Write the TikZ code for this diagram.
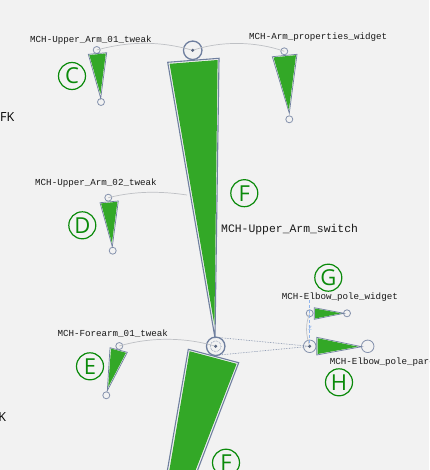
\documentclass[tikz,border=0pt]{standalone}
\usepackage{fontspec}
\setmainfont{Open Sans}
\setmonofont{Liberation Mono}
\usetikzlibrary{positioning}
\definecolor{bgcol}{HTML}{F2F2F2}
\definecolor{bonegreen}{HTML}{33A827}
\definecolor{boneline}{HTML}{6F7F9F}
\definecolor{markgreen}{HTML}{0A8A0A}
\definecolor{linkgray}{HTML}{BEC0C4}
\definecolor{axisblue}{HTML}{8FB4EC}
\begin{document}
\begin{tikzpicture}[
    x=1pt, y=-1pt,
    outl/.style={draw=boneline, fill=bgcol, line width=1.1pt, line join=miter},
    inl/.style={fill=bonegreen},
    ctl/.style={circle, draw=boneline!85, line width=0.8pt, inner sep=0pt, minimum size=7pt},
    jnt/.style={circle, draw=boneline, line width=1.3pt, inner sep=0pt, minimum size=18.5pt},
    pin/.style={circle, fill=boneline!80!black, inner sep=0pt, minimum size=3.4pt},
    lnk/.style={linkgray, line width=0.7pt},
    dlnk/.style={boneline, line width=0.6pt, densely dotted},
    lbl/.style={font=\ttfamily\fontsize{9.2}{10}\selectfont, text=black!90, inner sep=0pt},
    ltr/.style={circle, draw=markgreen, line width=1.2pt, text=markgreen, minimum size=27pt, inner sep=0pt,
      font=\fontsize{22}{23}\selectfont\mdseries},
    sidetxt/.style={font=\fontsize{12.5}{13}\selectfont, inner sep=0pt}
  ]
    \clip (0,0) rectangle (429,470);
    \useasboundingbox (0,0) rectangle (429,470);
    \fill[bgcol] (0,0) rectangle (429,470);

    % --- links ---
    \node[jnt] (upjnt) at (192.7,50.3) {};
    \node[jnt] (elbjnt) at (215.7,346.3) {};
    \node[ctl] (c1) at (96.7,50) {};
    \node[ctl] (c2) at (101,102) {};
    \node[ctl] (w1) at (284.3,51.3) {};
    \node[ctl] (w2) at (289.3,119.3) {};
    \node[ctl] (d1) at (108.3,197.7) {};
    \node[ctl] (d2) at (112.7,250.7) {};
    \node[ctl] (e1) at (119.3,346) {};
    \node[ctl] (e2) at (106.3,395.3) {};
    \node[ctl] (g1) at (309.7,313.3) {};
    \node[ctl] (g2) at (347,313.3) {};
    \node[ctl, minimum size=12.5pt] (h1) at (309.7,346.3) {};
    \node[ctl, minimum size=12.5pt] (h2) at (367.7,346.3) {};
    \coordinate (dend) at (187,195);
    \coordinate (ztop) at (309.7,300);

    \draw[lnk] (c1.center) .. controls (130,41) and (160,41) .. (upjnt.center);
    \draw[lnk] (upjnt.center) .. controls (220,41) and (255,41) .. (w1.center);
    \draw[lnk] (d1.center) .. controls (135,191) and (160,191) .. (dend);
    \draw[lnk] (e1.center) .. controls (150,337) and (185,337) .. (elbjnt.center);
    \draw[lnk] (g1.center) .. controls (305,325) and (306,335) .. (h1.center);
    \draw[dlnk] (elbjnt.60) -- (h1.center);
    \draw[dlnk] (elbjnt.-60) -- (h1.center);
    \draw[axisblue, densely dashed, line width=0.7pt] (ztop) -- (h1.center);
    \node[font=\sffamily\fontsize{6}{6}\selectfont, text=axisblue, inner sep=0pt] (zlbl) at (310,328) {Z};

    % --- bones ---
    \draw[outl] (167.7,62.3) -- (219,58.3) -- (215,338) -- cycle;
    \fill[inl] (169.6,63.8) -- (217.6,60) -- (214.4,325) -- cycle;
    \draw[outl] (188.3,349.3) -- (238.7,362.7) -- (190,490) -- (164,490) -- cycle;
    \fill[inl] (189.6,351.2) -- (236.6,363.8) -- (188,490) -- (166,490) -- cycle;
    \draw[outl, line width=0.7pt] (88.3,54.3) -- (106.7,52.7) -- (100.7,98.3) -- cycle;
    \fill[inl] (89.3,55) -- (105.8,53.5) -- (100.4,94) -- cycle;
    \draw[outl, line width=0.7pt] (272.3,56.7) -- (297,54.3) -- (289.3,113.3) -- cycle;
    \fill[inl] (273.5,57.4) -- (296,55.2) -- (288.9,110) -- cycle;
    \draw[outl, line width=0.7pt] (100,202.7) -- (118.3,201) -- (112.3,246.7) -- cycle;
    \fill[inl] (101,203.4) -- (117.4,201.8) -- (111.9,243) -- cycle;
    \draw[outl, line width=0.7pt] (110,347.7) -- (127.3,352.3) -- (107.3,390.7) -- cycle;
    \fill[inl] (111,348.6) -- (126,352.8) -- (108.2,387) -- cycle;
    \draw[outl, line width=0.7pt] (314.3,307.7) -- (314.3,319.3) -- (344,313.3) -- cycle;
    \fill[inl] (315,308.5) -- (315,318.5) -- (341,313.3) -- cycle;
    \draw[outl, line width=0.7pt] (316.7,337.3) -- (316.7,355) -- (361.7,346.7) -- cycle;
    \fill[inl] (317.5,338.2) -- (317.5,354) -- (358,346.7) -- cycle;

    % --- joint centres ---
    \node[pin] (upc) at (upjnt) {};
    \node[pin] (elbc) at (elbjnt) {};
    \node[pin] (hc) at (h1) {};
    \draw[dlnk] (elbjnt) circle (5.5);

    % --- names ---
    \node[lbl, anchor=west] (nc) at (30,39.7) {MCH-Upper\_Arm\_01\_tweak};
    \node[lbl, anchor=west] (nw) at (249,36.8) {MCH-Arm\_properties\_widget};
    \node[lbl, anchor=west] (nd) at (35,183.4) {MCH-Upper\_Arm\_02\_tweak};
    \node[lbl, anchor=west] (ne) at (57.3,333.4) {MCH-Forearm\_01\_tweak};
    \node[lbl, anchor=west] (ng) at (281.7,296.8) {MCH-Elbow\_pole\_widget};
    \node[lbl, anchor=west] (nh) at (329.7,361.8) {MCH-Elbow\_pole\_parent};
    \node[lbl, anchor=west, font=\ttfamily\fontsize{11.4}{12}\selectfont] (nf) at (221,229.5) {MCH-Upper\_Arm\_switch};

    % --- letters ---
    \node[ltr] (mc) at (72,76) {C};
    \node[ltr] (md) at (82.3,225.3) {D};
    \node[ltr] (me) at (90,366.3) {E};
    \node[ltr] (mf1) at (244.3,193.2) {F};
    \node[ltr] (mf2) at (226,462.7) {F};
    \node[ltr] (mg) at (328.3,277.7) {G};
    \node[ltr] (mh) at (339,382.3) {H};

    \node[sidetxt, anchor=west] (fk) at (0,117) {FK};
    \node[sidetxt, anchor=east] (ik) at (6.3,417.5) {K};
  \end{tikzpicture}
\end{document}
